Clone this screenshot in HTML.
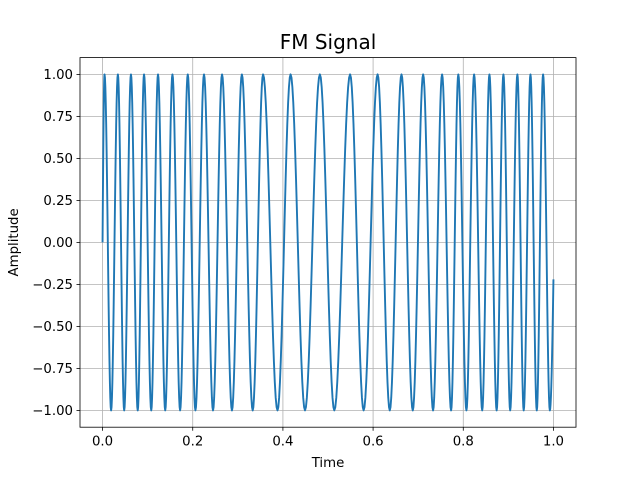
<!DOCTYPE html>
<html><head><meta charset="utf-8"><style>
html,body{margin:0;padding:0;background:#fff}
svg{display:block;font-family:"DejaVu Sans","Liberation Sans",sans-serif}
</style></head><body>
<svg id="chart" width="640" height="480"></svg>
<script>
// Data
const peakTimes = [0.0044,0.034,0.063,0.092,0.123,0.155,0.189,0.225,0.265,0.309,0.356,0.417,0.482,0.549,0.610,0.663,0.711,0.753,0.789,0.824,0.858,0.889,0.920,0.949,0.977];
const troughTimes = [0.019,0.048,0.078,0.108,0.139,0.172,0.206,0.245,0.287,0.333,0.388,0.449,0.514,0.579,0.637,0.688,0.733,0.773,0.807,0.842,0.874,0.904,0.934,0.963,0.992];
const startPoint = [0, 0];
const endPoint = [1, -0.22];
const xTicks = [0.0,0.2,0.4,0.6,0.8,1.0];
const xTickLabels = ["0.0","0.2","0.4","0.6","0.8","1.0"];
const yTicks = [-1.0,-0.75,-0.5,-0.25,0,0.25,0.5,0.75,1.0];
const yTickLabels = ["−1.00","−0.75","−0.50","−0.25","0.00","0.25","0.50","0.75","1.00"];

const L=80,R=576,T=57.6,B=427.2;
const xMin=-0.05,xMax=1.05,yMin=-1.1,yMax=1.1;
const sx=v=>L+(v-xMin)/(xMax-xMin)*(R-L);
const sy=v=>B-(v-yMin)/(yMax-yMin)*(B-T);
const NS="http://www.w3.org/2000/svg";
const svg=document.getElementById('chart');
function mk(tag,attrs,parent){const e=document.createElementNS(NS,tag);for(const k in attrs)e.setAttribute(k,attrs[k]);(parent||svg).appendChild(e);return e;}

const grid=mk('g',{});


xTicks.forEach(v=>{const l=mk('line',{x1:sx(v),x2:sx(v),y1:T,y2:B,stroke:'#b0b0b0','stroke-width':0.8},grid);

});
yTicks.forEach(v=>{const l=mk('line',{x1:L,x2:R,y1:sy(v),y2:sy(v),stroke:'#b0b0b0','stroke-width':0.8},grid);

});

const ext=[];
peakTimes.forEach(t=>ext.push([t,1]));
troughTimes.forEach(t=>ext.push([t,-1]));
ext.sort((a,b)=>a[0]-b[0]);
const pts=[];
{const t0=startPoint[0],t1=ext[0][0];
for(let i=0;i<=10;i++){const t=t0+(t1-t0)*i/10;pts.push([t,ext[0][1]*Math.sin(Math.PI/2*i/10)]);}}
for(let k=0;k<ext.length-1;k++){const [ta,ya]=ext[k],[tb]=ext[k+1];
for(let i=1;i<=16;i++){const f=i/16;pts.push([ta+(tb-ta)*f,ya*Math.cos(Math.PI*f)]);}}
{const [tl,yl]=ext[ext.length-1];const th=Math.acos(endPoint[1]/yl);
for(let i=1;i<=10;i++){const f=i/10;pts.push([tl+(endPoint[0]-tl)*f,yl*Math.cos(th*f)]);}}
const d=pts.map((p,i)=>(i?'L':'M')+sx(p[0]).toFixed(2)+','+sy(p[1]).toFixed(2)).join('');
const line=mk('path',{d:d,fill:'none',stroke:'#1f77b4','stroke-width':1.9,'stroke-linejoin':'round'});



const frame=mk('rect',{x:L,y:T,width:R-L,height:B-T,fill:'none',stroke:'#000','stroke-width':0.8});



xTicks.forEach((v,i)=>{mk('line',{x1:sx(v),x2:sx(v),y1:B,y2:B+3.5,stroke:'#000','stroke-width':0.8});
const t=mk('text',{x:sx(v),y:B+18.5,'text-anchor':'middle','font-size':13.3,fill:'#000'});t.textContent=xTickLabels[i];

});
yTicks.forEach((v,i)=>{mk('line',{x1:L-3.5,x2:L,y1:sy(v),y2:sy(v),stroke:'#000','stroke-width':0.8});
const t=mk('text',{x:L-7,y:sy(v)+4.8,'text-anchor':'end','font-size':13.3,fill:'#000'});t.textContent=yTickLabels[i];

});

const title=mk('text',{x:(L+R)/2,y:49,'text-anchor':'middle','font-size':20,fill:'#000'});title.textContent='FM Signal';


const xl=mk('text',{x:(L+R)/2,y:467,'text-anchor':'middle','font-size':13.3,fill:'#000'});xl.textContent='Time';


const yl=mk('text',{x:0,y:0,'text-anchor':'middle','font-size':13.3,fill:'#000',transform:'translate(18,'+((T+B)/2)+') rotate(-90)'});yl.textContent='Amplitude';


</script>
</body></html>
